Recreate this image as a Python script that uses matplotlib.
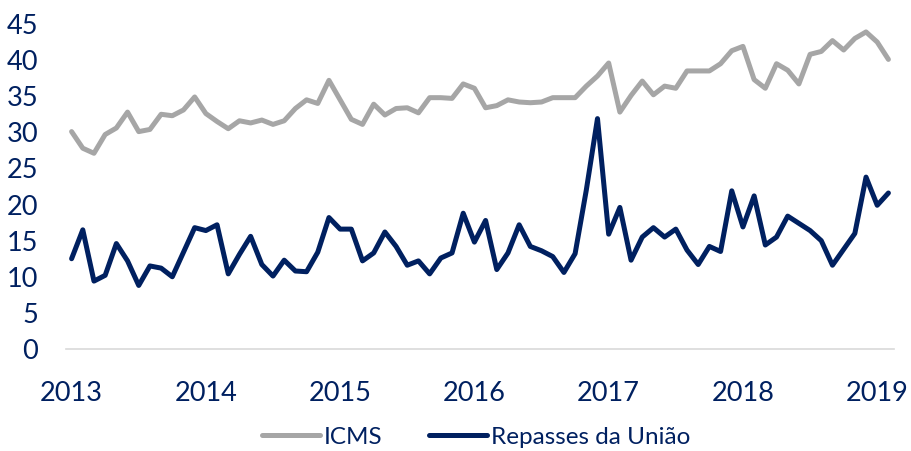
import matplotlib
matplotlib.use("Agg")
import matplotlib.pyplot as plt

years = ["2013", "2014", "2015", "2016", "2017", "2018", "2019"]
year_month_index = [0, 12, 24, 36, 48, 60, 72]

icms = [30.1, 27.8, 27.1, 29.7, 30.6, 32.8, 30.1, 30.4, 32.5, 32.3, 33.1, 34.9,
        32.6, 31.5, 30.5, 31.6, 31.3, 31.7, 31.1, 31.6, 33.3, 34.5, 34.0, 37.2,
        34.5, 31.8, 31.1, 33.9, 32.4, 33.3, 33.4, 32.7, 34.8, 34.8, 34.7, 36.7,
        36.1, 33.4, 33.7, 34.5, 34.2, 34.1, 34.2, 34.8, 34.8, 34.8, 36.4, 37.8,
        39.6, 32.8, 35.1, 37.1, 35.2, 36.4, 36.1, 38.5, 38.5, 38.5, 39.5, 41.3,
        41.9, 37.3, 36.1, 39.5, 38.6, 36.7, 40.8, 41.2, 42.7, 41.4, 43.0, 43.9,
        42.5, 40.1]

repasses = [12.5, 16.5, 9.4, 10.2, 14.6, 12.2, 8.8, 11.5, 11.2, 10.0, 13.4, 16.8,
            16.4, 17.2, 10.4, 13.1, 15.6, 11.7, 10.1, 12.3, 10.8, 10.7, 13.4, 18.2,
            16.6, 16.6, 12.2, 13.3, 16.2, 14.2, 11.6, 12.2, 10.4, 12.6, 13.3, 18.8,
            14.8, 17.8, 11.0, 13.3, 17.2, 14.2, 13.6, 12.8, 10.6, 13.2, 22.0, 31.9,
            15.9, 19.6, 12.3, 15.5, 16.8, 15.5, 16.6, 13.7, 11.7, 14.2, 13.5, 21.9,
            16.9, 21.2, 14.4, 15.5, 18.4, 17.4, 16.4, 15.0, 11.6, 13.8, 16.0, 23.8,
            19.9, 21.6]

yticks = [0, 5, 10, 15, 20, 25, 30, 35, 40, 45]

navy = "#002060"
gray = "#A6A6A6"
plt.rcParams['font.family'] = ['Lato', 'DejaVu Sans']

fig = plt.figure(figsize=(9.12, 4.51), dpi=100)
ax = fig.add_axes([66/912, 1-349/451, (894-66)/912, (349-24)/451])

x = list(range(len(icms)))
ax.plot(x, icms, color=gray, lw=3.6, solid_joinstyle='round', solid_capstyle='round', label="ICMS")
ax.plot(x, repasses, color=navy, lw=3.6, solid_joinstyle='round', solid_capstyle='round', label="Repasses da União")

ax.set_xlim(-0.5, len(icms) - 0.5)
ax.set_ylim(0, 45)
ax.set_yticks(yticks)
ax.set_xticks(year_month_index)
ax.set_xticklabels(years)

for s in ["top", "right", "left"]:
    ax.spines[s].set_visible(False)
ax.spines["bottom"].set_color("#D9D9D9")
ax.spines["bottom"].set_linewidth(1.2)
ax.tick_params(axis='both', length=0, labelsize=19.5, labelcolor=navy)
ax.tick_params(axis='x', pad=23)
ax.tick_params(axis='y', pad=20)

fig.legend(loc='center', bbox_to_anchor=(476/912, 1-437/451), ncol=2, frameon=False,
           fontsize=17.5, handlelength=2.4, handletextpad=0.15, columnspacing=1.9,
           labelcolor=navy)

fig.savefig("out.png", dpi=100)
